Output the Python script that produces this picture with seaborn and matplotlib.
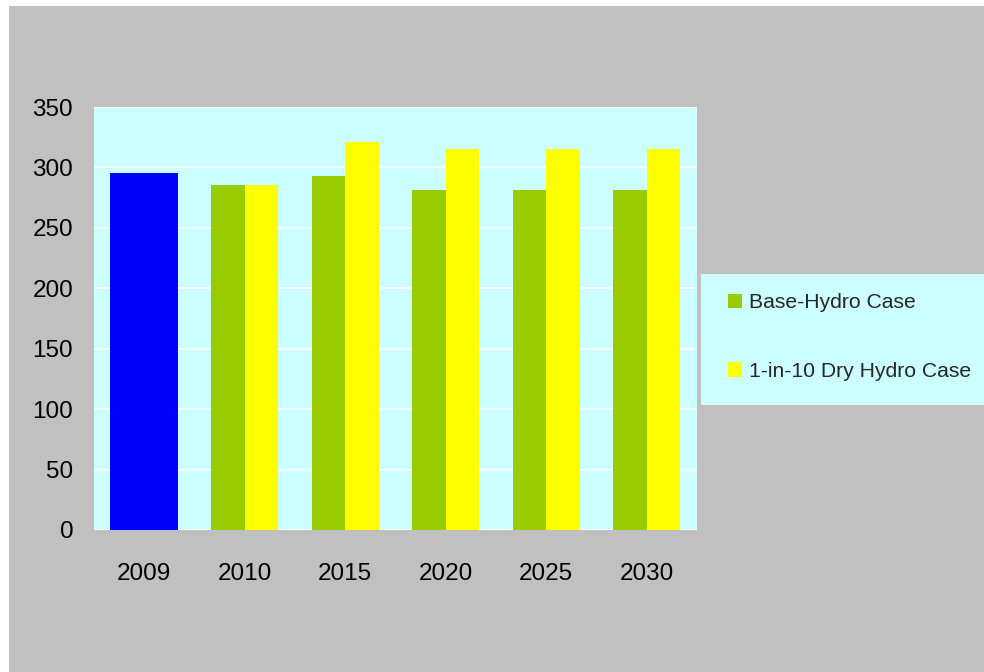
import matplotlib
matplotlib.use("Agg")
import matplotlib.pyplot as plt
from matplotlib.patches import Rectangle, Patch
import seaborn as sns
import pandas as pd

years = ["2009", "2010", "2015", "2020", "2025", "2030"]
actual_2009 = [295]
base_hydro = [None, 285.5, 293, 281.5, 281.5, 281.5]
dry_hydro = [None, 285.5, 321, 315, 315, 315]
series_names = ["Base-Hydro Case", "1-in-10 Dry Hydro Case"]
yticks = [0, 50, 100, 150, 200, 250, 300, 350]

sns.set_theme(style="white")
plt.rcParams['font.family'] = ['Liberation Sans', 'DejaVu Sans']

GRAY = "#C0C0C0"
CYAN = "#CCFFFF"
GREEN = "#99CC00"
YELLOW = "#FFFF00"
BLUE = "#0000FF"

fig = plt.figure(figsize=(9.84, 6.72), dpi=100, facecolor="white")
W, H = 984, 672
fig.patches.append(Rectangle((9 / W, 0), 1 - 9 / W, 1 - 6 / H, transform=fig.transFigure,
                             facecolor=GRAY, edgecolor="none", zorder=-10))

ax = fig.add_axes([94 / W, 1 - 530 / H, (697 - 94) / W, (530 - 107) / H])
ax.set_facecolor(CYAN)

rows = []
for i, y in enumerate(years[1:], start=1):
    rows.append({"year": y, "case": series_names[0], "value": base_hydro[i]})
    rows.append({"year": y, "case": series_names[1], "value": dry_hydro[i]})
df = pd.DataFrame(rows)

sns.barplot(data=df, x="year", y="value", hue="case", order=years,
            hue_order=series_names, palette=[GREEN, YELLOW], width=0.67,
            saturation=1, ax=ax, legend=False, errorbar=None, zorder=3,
            linewidth=0, edgecolor="none")
df09 = pd.DataFrame({"year": ["2009"], "value": actual_2009})
sns.barplot(data=df09, x="year", y="value", order=years, color=BLUE, width=0.68,
            saturation=1, ax=ax, errorbar=None, zorder=3, linewidth=0, edgecolor="none")

ax.set_ylim(0, 350)
ax.set_xlim(-0.5, 5.5)
ax.set_yticks(yticks)
ax.yaxis.grid(True, color="white", linewidth=1.2, zorder=0)
ax.set_axisbelow(True)
for s in ax.spines.values():
    s.set_visible(False)
ax.set_xlabel("")
ax.set_ylabel("")
ax.tick_params(axis="y", length=0, pad=15, labelsize=17.5, colors="black")
ax.tick_params(axis="x", length=0, pad=24, labelsize=17.5, colors="black")

# legend box
fig.patches.append(Rectangle((701 / W, 1 - 405 / H), 1 - 701 / W, (405 - 274) / H,
                             transform=fig.transFigure, facecolor=CYAN,
                             edgecolor="none", zorder=1))
handles = [Patch(facecolor=GREEN, edgecolor="none"), Patch(facecolor=YELLOW, edgecolor="none")]
leg = fig.legend(handles, series_names, loc="center left",
                 bbox_to_anchor=(717 / W, 1 - 337 / H), frameon=False,
                 fontsize=15.2, handlelength=0.68, handleheight=0.68,
                 handletextpad=0.33, labelspacing=2.35, borderpad=0)
leg.set_zorder(5)

fig.savefig("out.png", dpi=100, facecolor=fig.get_facecolor())
